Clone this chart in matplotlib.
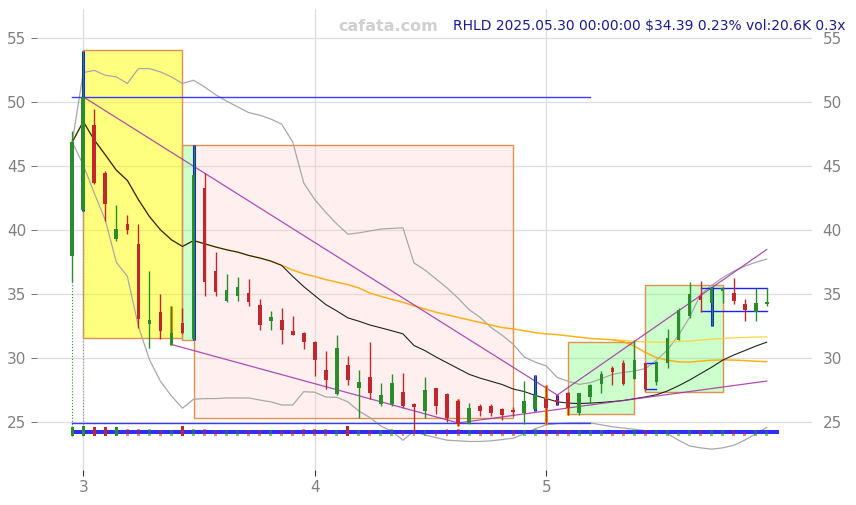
import matplotlib
matplotlib.use("Agg")
import matplotlib.pyplot as plt
from matplotlib.patches import Rectangle
import numpy as np

# daily candles, oldest first
opens = [38.0, 41.6, 48.2, 44.5, 39.35, 40.5, 38.9, 32.65, 33.65, 31.0,
         32.75, 31.5, 43.3, 36.85, 34.45, 34.9, 35.1, 34.2, 32.95, 33.0,
         32.15, 31.95, 31.3, 29.1, 27.2, 29.45, 27.65, 28.5, 26.45, 26.4,
         27.4, 26.45, 25.9, 27.65, 27.2, 26.65, 24.9, 26.3, 26.25, 26.05,
         25.95, 25.7, 26.0, 26.85, 26.75, 27.3, 25.75, 26.95, 28.0, 29.25,
         29.6, 28.4, 29.6, 28.15, 29.65, 31.4, 33.3, 34.9, 34.35, 35.25,
         35.1, 34.25, 33.65, 34.25]
highs = [47.8, 54.05, 49.5, 44.6, 42.0, 41.2, 40.5, 36.85, 35.05, 34.05,
         33.9, 46.65, 44.45, 38.3, 36.6, 36.35, 36.2, 34.6, 33.7, 33.9,
         33.3, 32.05, 31.35, 30.6, 31.8, 30.2, 29.05, 31.25, 28.05, 28.75,
         28.85, 26.5, 28.5, 27.7, 27.25, 26.85, 26.5, 26.45, 26.45, 26.1,
         26.2, 28.2, 28.7, 27.9, 27.13, 27.35, 27.3, 28.0, 29.0, 29.4,
         29.9, 31.4, 29.65, 29.8, 32.3, 33.95, 35.95, 36.05, 35.55, 35.55,
         36.25, 34.6, 35.5, 35.5]
lows = [36.0, 41.5, 43.6, 40.7, 39.2, 39.7, 32.4, 30.8, 31.5, 31.0,
        31.9, 31.45, 34.85, 34.85, 34.4, 34.5, 34.1, 32.2, 32.2, 31.1,
        31.8, 30.7, 28.6, 27.6, 27.15, 27.95, 25.3, 26.8, 26.25, 26.3,
        26.15, 24.15, 25.3, 25.65, 25.0, 24.7, 24.85, 25.5, 25.5, 25.2,
        25.5, 24.9, 25.9, 24.9, 26.35, 25.6, 25.6, 26.5, 27.3, 27.95,
        27.9, 28.4, 27.45, 27.95, 29.25, 31.4, 33.15, 33.65, 32.55, 34.35,
        34.25, 32.95, 32.9, 34.05]
closes = [46.9, 50.4, 43.7, 42.05, 40.1, 40.05, 33.1, 33.0, 32.1, 32.0,
          31.95, 44.3, 36.0, 35.15, 35.35, 35.55, 34.4, 32.6, 33.25, 32.25,
          31.85, 31.25, 29.9, 28.3, 30.8, 28.3, 28.15, 27.25, 27.1, 28.05,
          26.25, 26.2, 27.55, 26.25, 25.35, 24.85, 26.15, 25.85, 25.7, 25.55,
          25.8, 26.65, 27.1, 26.1, 26.6, 26.1, 27.25, 27.95, 28.8, 28.9,
          28.0, 29.9, 27.6, 29.7, 31.6, 33.75, 35.0, 34.55, 35.5, 35.5,
          34.45, 33.8, 34.3, 34.39]
volumes = [70, 75, 72, 72, 70, 56, 56, 53, 45, 45,
           75, 58, 53, 50, 50, 50, 50, 50, 45, 50,
           45, 57, 53, 53, 50, 75, 50, 50, 50, 53,
           45, 50, 50, 45, 57, 53, 50, 50, 50, 45,
           45, 50, 53, 50, 45, 50, 45, 45, 45, 30,
           45, 45, 45, 45, 45, 30, 45, 45, 45, 45,
           45, 30, 45, 40]

# indicator lines
ma_short = [46.9, 48.5, 47.06, 45.9, 44.7, 43.9, 42.4, 41.08, 40.04, 39.26,
            38.74, 39.2, 38.95, 38.7, 38.48, 38.3, 38.04, 37.84, 37.6, 37.26,
            36.4, 35.6, 34.9, 34.2, 33.7, 33.16, 32.9, 32.6, 32.38, 32.15,
            31.91, 31.0, 30.6, 30.1, 29.65, 29.2, 28.75, 28.45, 28.2, 27.95,
            27.6, 27.4, 27.1, 26.85, 26.6, 26.5, 26.46, 26.5, 26.55, 26.62,
            26.7, 26.84, 26.98, 27.15, 27.45, 27.85, 28.3, 28.8, 29.3, 29.85,
            30.25, 30.6, 30.95, 31.26]
ma_mid = [46.9, 48.5, 47.06, 45.9, 44.7, 43.9, 42.4, 41.08, 40.04, 39.26,
          38.74, 39.2, 38.95, 38.7, 38.48, 38.3, 38.04, 37.84, 37.6, 37.26,
          36.9, 36.6, 36.4, 36.15, 35.95, 35.76, 35.5, 35.1, 34.84, 34.6,
          34.38, 34.1, 33.85, 33.6, 33.4, 33.2, 33.0, 32.8, 32.6, 32.4,
          32.3, 32.15, 32.0, 31.91, 31.85, 31.75, 31.65, 31.55, 31.5, 31.45,
          31.3, 30.95, 30.45, 30.05, 29.85, 29.72, 29.7, 29.78, 29.85, 29.87,
          29.86, 29.82, 29.77, 29.73]
ma_long = [31.45, 31.4, 31.33, 31.28, 31.26, 31.27, 31.3, 31.35, 31.42, 31.5,
           31.55, 31.6, 31.63, 31.66, 31.68]   # from candle 49 on
band_up = [46.9, 52.33, 52.5, 52.12, 51.99, 51.48, 52.64, 52.64, 52.38, 51.99,
           51.48, 51.73, 51.21, 50.6, 50.1, 49.65, 49.2, 49.0, 48.7, 48.3,
           46.9, 43.7, 42.4, 41.4, 40.5, 39.7, 39.8, 39.95, 40.1, 40.15,
           40.2, 37.45, 36.9, 36.2, 35.5, 34.7, 33.8, 33.2, 32.4, 31.8,
           31.1, 30.1, 29.7, 29.4, 28.5, 28.2, 27.96, 28.1, 28.4, 28.75,
           28.9, 29.0, 29.2, 29.85, 30.65, 31.8, 33.2, 35.0, 35.7, 36.3,
           36.8, 37.2, 37.5, 37.75]
band_lo = [46.9, 45.1, 42.9, 40.8, 37.5, 36.4, 32.5, 29.9, 28.2, 27.05,
           26.1, 26.8, 26.85, 26.85, 26.9, 26.9, 26.9, 26.74, 26.6, 26.35,
           26.35, 27.39, 27.35, 26.97, 26.95, 26.6, 25.88, 25.37, 24.7, 24.3,
           23.6, 24.3, 24.0, 23.8, 23.6, 23.55, 23.5, 23.5, 23.55, 23.65,
           23.75, 24.1, 24.5, 24.8, 24.9, 24.95, 24.97, 24.95, 24.8, 24.65,
           24.55, 24.45, 24.35, 24.3, 24.1, 23.6, 23.15, 23.0, 22.9, 23.0,
           23.2, 23.6, 24.1, 24.6]

# trend lines: (start candle, start price, end candle, end price)
trends = [(1, 50.43, 44, 27.13), (44, 27.13, 63, 38.5),
          (9, 31.08, 35, 24.95), (35, 24.95, 63, 28.22)]
# zones: (first candle, last candle, top, bottom, kind)
zones = [(1, 10, 54.07, 31.56, "yellow"), (10, 11, 46.66, 31.45, "green"),
         (11, 40, 46.66, 25.31, "pink"), (45, 51, 31.3, 25.63, "green"),
         (52, 59, 35.7, 27.34, "green")]
levels = [50.44, 24.92]   # drawn up to candle 47
ranges = [(57, 63, 35.5, 33.68), (52, 53, 29.65, 27.63)]
blue_marks = [1, 11, 42, 44, 58]
orange_marks = [9, 35, 43, 45]

n = len(closes)
x = 3 + (np.arange(n) - 1) / 21.0
o = np.array(opens); c = np.array(closes)
up = c >= o
GREEN, RED = "#2a8c2a", "#c0282d"
cols = np.where(up, GREEN, RED)

fig = plt.figure(figsize=(8.56, 5.05), dpi=100)
ax = fig.add_axes([0.0432, 0.0693, 0.9054, 0.9127])
ax.set_xlim(2.80, 6.148)
ax.set_ylim(21.27, 57.29)

for s in ax.spines.values():
    s.set_visible(False)
ax.grid(True, color="#dddddd", lw=0.9, zorder=0)
ax.set_axisbelow(True)
ax.set_xticks([3, 4, 5])
ax.set_yticks([25, 30, 35, 40, 45, 50, 55])
ax.tick_params(axis="both", colors="#808080", labelsize=11, length=4)
ax.tick_params(axis="y", labelright=True, right=False)
ax.tick_params(axis="x", colors="#333333", labelcolor="#808080")

face = {"yellow": (1, 1, 0, 0.5), "green": (0.5, 1, 0.5, 0.4),
        "pink": (1, 0.8, 0.8, 0.3)}
for a, b, top, bot, kind in zones:
    ax.add_patch(Rectangle((x[a], bot), x[b] - x[a], top - bot,
                           facecolor=face[kind], edgecolor="#e09050",
                           lw=1.0, zorder=1))

# bollinger style band and moving averages
ax.plot(x, band_up, color="#a8a8a8", lw=0.9, zorder=2)
ax.plot(x, band_lo, color="#a8a8a8", lw=0.9, zorder=2)
ax.plot(x[49:], ma_long, color="#ffd430", lw=1.0, alpha=0.85, zorder=2)
ax.plot(x, ma_mid, color="#ffaa00", lw=1.1, alpha=0.9, zorder=2)
ax.plot(x, ma_short, color="#222222", lw=0.8, zorder=3)

for a, pa, b, pb in trends:
    ax.plot([x[a], x[b]], [pa, pb], color="#a030a8", lw=0.9, alpha=0.85, zorder=3)

for lv in levels:
    ax.plot([x[0], x[47]], [lv, lv], color="#3c3cff", lw=1.0, zorder=3)
for a, b, top, bot in ranges:
    for lv in (top, bot):
        ax.plot([x[a], x[b]], [lv, lv], color="#2020ff", lw=1.0, zorder=3)

# dotted drops from first candles
ax.vlines(x[0], 23.95, lows[0], colors=GREEN, lw=0.8, linestyles=":", zorder=2)
ax.vlines(x[1], 23.95, lows[1], colors="#80a080", lw=0.8, linestyles=":", zorder=2)

# volume strip at the bottom
end_x = x[63] + 1.0 / 21
ax.fill_between([x[0], end_x], 24.15, 24.35, color="#b8b8ff",
                alpha=0.6, lw=0, zorder=3)
for lv in (24.15, 24.35):
    ax.plot([x[0], end_x], [lv, lv], color="#2a2aff", lw=1.4, zorder=3)
vol = np.array(volumes)
vh = vol / 75.0 * 0.72
strong = vol >= 60
for i in range(n):
    ax.bar(x[i], vh[i], bottom=23.95, width=0.0125, color=cols[i],
           alpha=1.0 if strong[i] else 0.55, zorder=4, lw=0)

# candles
for i in blue_marks:
    ax.vlines(x[i], lows[i], highs[i], colors="#1010ff", lw=2.2, zorder=4)
for i in orange_marks:
    ax.vlines(x[i], lows[i], highs[i], colors="#ffa000", lw=2.2, zorder=4)
ax.vlines(x, lows, highs, colors=cols, lw=1.0, zorder=4)
body = np.where(np.abs(c - o) < 0.08, 0.08, c - o)
ax.bar(x, body, bottom=o, width=0.016, color=cols, lw=0, zorder=5)

fig.text(0.453, 0.9485, "cafata.com", color="#d0d0d0", fontsize=11.5,
         fontweight="bold", ha="center", va="center")
fig.text(0.988, 0.9485, r"RHLD 2025.05.30 00:00:00 \$34.39 0.23% vol:20.6K 0.3x",
         color="#1a1a90", fontsize=10, ha="right", va="center")

fig.savefig("out.png", dpi=100)
